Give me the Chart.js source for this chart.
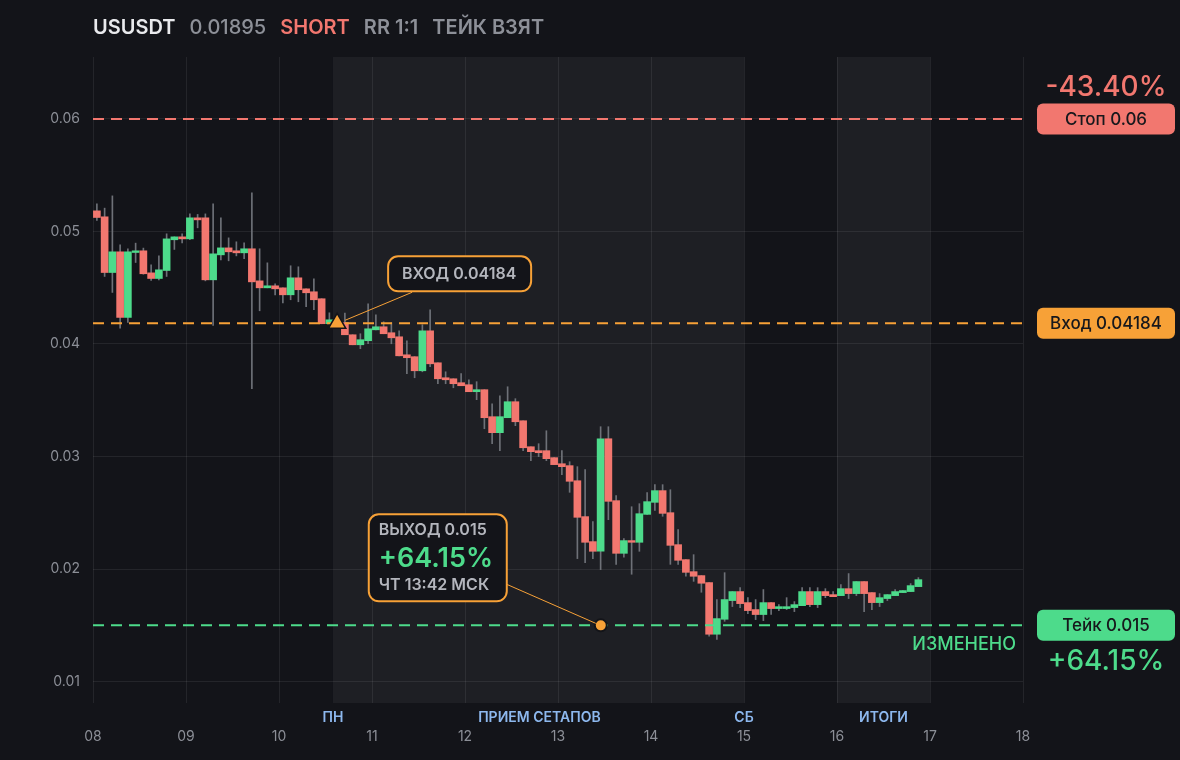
<!DOCTYPE html>
<html>
<head>
<meta charset="utf-8">
<script src="https://cdn.jsdelivr.net/npm/chart.js@4.4.1/dist/chart.umd.min.js"></script>
<style>
  html, body { margin: 0; padding: 0; background: #131419; }
  #wrap { position: relative; width: 1180px; height: 760px; }
  #head { position: absolute; left: 93px; top: 15px; font: 600 20px Inter, sans-serif; color: #8d9098; white-space: nowrap; }
  #head span { margin-right: 9px; }
</style>
</head>
<body>
<div id="wrap">
  <canvas id="myChart" width="1180" height="760"></canvas>
  <div id="head">
    <span style="color:#e9eaed">USUSDT</span>
    <span style="font-weight:500">0.01895</span>
    <span style="color:#f2776f">SHORT</span>
    <span>RR 1:1</span>
    <span>ТЕЙК ВЗЯТ</span>
  </div>
</div>
<script>
// свечи по 2 часа, начиная с 08 числа
const startDay = 8;
const candleHours = 2;

const opens = [
  0.05183, 0.05130, 0.04635, 0.04819, 0.04236, 0.04813, 0.04828, 0.04632, 0.04582, 0.04653,
  0.04926, 0.04952, 0.04934, 0.05121, 0.05121, 0.04570, 0.04792, 0.04854, 0.04828, 0.04810,
  0.04846, 0.04561, 0.04499, 0.04517, 0.04499, 0.04437, 0.04588, 0.04490, 0.04464, 0.04402,
  0.04180, 0.04215, 0.04190, 0.04082, 0.03993, 0.04029, 0.04126, 0.04153, 0.04100, 0.04064,
  0.03904, 0.03887, 0.03762, 0.04117, 0.03833, 0.03700, 0.03691, 0.03656, 0.03638, 0.03576,
  0.03594, 0.03354, 0.03212, 0.03345, 0.03487, 0.03318, 0.03087, 0.03052, 0.03052, 0.02990,
  0.02936, 0.02919, 0.02785, 0.02466, 0.02244, 0.02158, 0.03158, 0.02608, 0.02140, 0.02253,
  0.02238, 0.02486, 0.02593, 0.02697, 0.02501, 0.02217, 0.02084, 0.01977, 0.01942, 0.01880,
  0.01421, 0.01554, 0.01720, 0.01800, 0.01702, 0.01640, 0.01596, 0.01702, 0.01649, 0.01649,
  0.01658, 0.01675, 0.01800, 0.01684, 0.01800, 0.01773, 0.01764, 0.01826, 0.01782, 0.01889,
  0.01791, 0.01702, 0.01738, 0.01764, 0.01791, 0.01800, 0.01844
];
const highs = [
  0.05245, 0.05207, 0.05316, 0.04881, 0.04846, 0.04896, 0.04852, 0.04703, 0.04783, 0.04979,
  0.04952, 0.04979, 0.05156, 0.05151, 0.05156, 0.05245, 0.05121, 0.04943, 0.04908, 0.04899,
  0.05343, 0.04846, 0.04721, 0.04535, 0.04499, 0.04695, 0.04686, 0.04490, 0.04579, 0.04402,
  0.04277, 0.04240, 0.04274, 0.04082, 0.04091, 0.04357, 0.04260, 0.04197, 0.04189, 0.04117,
  0.04029, 0.03887, 0.04171, 0.04304, 0.03833, 0.03753, 0.03691, 0.03736, 0.03682, 0.03665,
  0.03594, 0.03469, 0.03540, 0.03620, 0.03514, 0.03318, 0.03087, 0.03114, 0.03229, 0.02990,
  0.03052, 0.02954, 0.02910, 0.02883, 0.02421, 0.03265, 0.03265, 0.02652, 0.02270, 0.02554,
  0.02581, 0.02679, 0.02750, 0.02750, 0.02705, 0.02350, 0.02084, 0.02128, 0.01942, 0.01880,
  0.01729, 0.01968, 0.01800, 0.01835, 0.01746, 0.01729, 0.01818, 0.01702, 0.01684, 0.01746,
  0.01711, 0.01835, 0.01835, 0.01835, 0.01826, 0.01800, 0.01862, 0.01960, 0.01889, 0.01889,
  0.01791, 0.01782, 0.01773, 0.01818, 0.01809, 0.01871, 0.01924
];
const lows = [
  0.05097, 0.04600, 0.04458, 0.04141, 0.04192, 0.04724, 0.04620, 0.04564, 0.04570, 0.04600,
  0.04840, 0.04899, 0.04926, 0.05032, 0.04561, 0.04165, 0.04748, 0.04739, 0.04783, 0.04757,
  0.03602, 0.04295, 0.04499, 0.04437, 0.04366, 0.04393, 0.04375, 0.04331, 0.04304, 0.04180,
  0.04180, 0.04170, 0.04082, 0.03993, 0.03958, 0.04002, 0.04126, 0.04091, 0.04002, 0.03895,
  0.03736, 0.03700, 0.03753, 0.03798, 0.03647, 0.03647, 0.03611, 0.03629, 0.03576, 0.03505,
  0.03247, 0.03114, 0.03052, 0.03345, 0.03274, 0.03052, 0.02963, 0.02999, 0.02963, 0.02928,
  0.02839, 0.02682, 0.02093, 0.02057, 0.02093, 0.01995, 0.02439, 0.02042, 0.02105, 0.01954,
  0.02158, 0.02486, 0.02522, 0.02469, 0.02042, 0.02042, 0.01936, 0.01891, 0.01794, 0.01403,
  0.01376, 0.01536, 0.01667, 0.01658, 0.01604, 0.01551, 0.01542, 0.01596, 0.01631, 0.01640,
  0.01622, 0.01675, 0.01667, 0.01658, 0.01746, 0.01755, 0.01764, 0.01738, 0.01764, 0.01622,
  0.01640, 0.01667, 0.01720, 0.01764, 0.01791, 0.01800, 0.01844
];
const closes = [
  0.05124, 0.04635, 0.04819, 0.04236, 0.04819, 0.04828, 0.04624, 0.04582, 0.04659, 0.04934,
  0.04952, 0.04934, 0.05121, 0.05103, 0.04570, 0.04801, 0.04854, 0.04819, 0.04810, 0.04846,
  0.04552, 0.04499, 0.04517, 0.04490, 0.04437, 0.04588, 0.04482, 0.04455, 0.04393, 0.04180,
  0.04215, 0.04195, 0.04082, 0.03993, 0.04038, 0.04135, 0.04153, 0.04091, 0.04055, 0.03895,
  0.03878, 0.03762, 0.04117, 0.03824, 0.03691, 0.03682, 0.03647, 0.03629, 0.03576, 0.03594,
  0.03345, 0.03212, 0.03354, 0.03487, 0.03309, 0.03078, 0.03043, 0.03034, 0.02981, 0.02928,
  0.02910, 0.02780, 0.02460, 0.02238, 0.02158, 0.03158, 0.02602, 0.02140, 0.02253, 0.02238,
  0.02492, 0.02599, 0.02697, 0.02495, 0.02211, 0.02078, 0.01971, 0.01936, 0.01874, 0.01421,
  0.01560, 0.01729, 0.01800, 0.01693, 0.01631, 0.01596, 0.01702, 0.01649, 0.01666, 0.01666,
  0.01684, 0.01800, 0.01684, 0.01800, 0.01764, 0.01755, 0.01826, 0.01782, 0.01889, 0.01782,
  0.01702, 0.01746, 0.01773, 0.01800, 0.01809, 0.01853, 0.01906
];

// уровни сделки
const stopPrice = 0.06;
const entryPrice = 0.04184;
const takePrice = 0.015;
const entryDay = 10.625;
const exitDay = 13.46;

// оси
const xTickValues = [8, 9, 10, 11, 12, 13, 14, 15, 16, 17, 18];
const xTickLabels = ['08', '09', '10', '11', '12', '13', '14', '15', '16', '17', '18'];
const yTickValues = [0.01, 0.02, 0.03, 0.04, 0.05, 0.06];
const yTickLabels = ['0.01', '0.02', '0.03', '0.04', '0.05', '0.06'];

// сессии
const bandFrom = [10.58, 16];
const bandTo = [15, 17];
const sessionLabels = ['ПН', 'ПРИЕМ СЕТАПОВ', 'СБ', 'ИТОГИ'];
const sessionDays = [10.58, 12.8, 15, 16.5];

const GREEN = '#4ddb8b';
const RED = '#f2776f';
const ORANGE = '#f7a137';
const BG = '#131419';
const TXT = '#b4b6bd';

const times = opens.map((o, i) => startDay + (i + 0.5) * candleHours / 24);

const bandsPlugin = {
  id: 'bands',
  beforeDraw(chart) {
    const { ctx, chartArea: a, scales: { x } } = chart;
    ctx.save();
    ctx.fillStyle = '#1e1f24';
    bandFrom.forEach((f, i) => {
      const x0 = x.getPixelForValue(f), x1 = x.getPixelForValue(bandTo[i]);
      ctx.fillRect(x0, a.top, x1 - x0, a.bottom - a.top);
    });
    ctx.restore();
  }
};

function pill(ctx, text, color, cx, cy) {
  ctx.fillStyle = color;
  ctx.beginPath();
  ctx.roundRect(cx - 69, cy - 15.5, 138, 31, 6);
  ctx.fill();
  ctx.fillStyle = '#17181c';
  ctx.font = '500 17px Inter';
  ctx.textAlign = 'center';
  ctx.textBaseline = 'middle';
  ctx.fillText(text, cx, cy + 1);
}

const labelsPlugin = {
  id: 'labels',
  afterDraw(chart) {
    const { ctx, chartArea: a, scales: { x, y } } = chart;
    ctx.save();

    // подписи сессий
    ctx.font = '600 14px Inter';
    ctx.fillStyle = '#8db8ee';
    ctx.textAlign = 'center';
    ctx.textBaseline = 'middle';
    sessionLabels.forEach((t, i) => ctx.fillText(t, x.getPixelForValue(sessionDays[i]), a.bottom + 15));

    // ценники справа
    const px = a.right + 83;
    const ys = y.getPixelForValue(stopPrice), ye = y.getPixelForValue(entryPrice), yt = y.getPixelForValue(takePrice);
    pill(ctx, 'Стоп 0.06', RED, px, ys);
    pill(ctx, 'Вход 0.04184', ORANGE, px, ye);
    pill(ctx, 'Тейк 0.015', GREEN, px, yt);
    ctx.font = '500 28px Inter';
    ctx.fillStyle = RED;
    ctx.fillText('-43.40%', px, ys - 31);
    ctx.fillStyle = GREEN;
    ctx.fillText('+64.15%', px, yt + 36);
    ctx.font = '500 18px Inter';
    ctx.textAlign = 'right';
    ctx.fillText('ИЗМЕНЕНО', a.right - 7, yt + 19);

    // вход
    const ex = x.getPixelForValue(entryDay), ey = ye;
    ctx.strokeStyle = ORANGE;
    ctx.lineWidth = 1;
    ctx.beginPath();
    ctx.moveTo(ex + 75, ey - 31);
    ctx.lineTo(ex + 8, ey - 3);
    ctx.stroke();
    ctx.lineWidth = 2;
    ctx.fillStyle = BG;
    ctx.beginPath();
    ctx.roundRect(ex + 51, ey - 67, 143, 35, 10);
    ctx.fill();
    ctx.stroke();
    ctx.fillStyle = TXT;
    ctx.font = '600 16px Inter';
    ctx.textAlign = 'center';
    ctx.fillText('ВХОД 0.04184', ex + 122, ey - 49);

    // выход
    const ox = x.getPixelForValue(exitDay), oy = yt;
    ctx.lineWidth = 1;
    ctx.beginPath();
    ctx.moveTo(ox - 94, oy - 41);
    ctx.lineTo(ox - 5, oy - 2);
    ctx.stroke();
    ctx.lineWidth = 2;
    ctx.fillStyle = BG;
    ctx.beginPath();
    ctx.roundRect(ox - 232, oy - 111, 138, 87, 10);
    ctx.fill();
    ctx.stroke();
    ctx.textAlign = 'left';
    ctx.fillStyle = TXT;
    ctx.font = '600 16px Inter';
    ctx.fillText('ВЫХОД 0.015', ox - 222, oy - 95);
    ctx.fillText('ЧТ 13:42 МСК', ox - 222, oy - 40);
    ctx.fillStyle = GREEN;
    ctx.font = '600 27px Inter';
    ctx.fillText('+64.15%', ox - 222, oy - 66);

    ctx.restore();
  }
};

Chart.defaults.font.family = 'Inter';

const ctx = document.getElementById('myChart').getContext('2d');
const myChart = new Chart(ctx, {
  type: 'bar',
  data: {
    datasets: [
      {
        type: 'line',
        data: [{ x: 8, y: stopPrice }, { x: 18, y: stopPrice }],
        borderColor: RED, borderWidth: 2, borderDash: [11, 7], pointRadius: 0, order: 1
      },
      {
        type: 'line',
        data: [{ x: 8, y: entryPrice }, { x: 18, y: entryPrice }],
        borderColor: ORANGE, borderWidth: 2, borderDash: [11, 7], pointRadius: 0, order: 1
      },
      {
        type: 'line',
        data: [{ x: 8, y: takePrice }, { x: 18, y: takePrice }],
        borderColor: GREEN, borderWidth: 2, borderDash: [11, 7], pointRadius: 0, order: 1
      },
      {
        type: 'line',
        data: [{ x: entryDay, y: entryPrice }],
        showLine: false, pointStyle: 'triangle', pointRadius: 10,
        backgroundColor: ORANGE, borderColor: BG, borderWidth: 1.5, order: 0
      },
      {
        type: 'line',
        data: [{ x: exitDay, y: takePrice }],
        showLine: false, pointStyle: 'circle', pointRadius: 6,
        backgroundColor: ORANGE, borderColor: BG, borderWidth: 2, order: 0
      },
      {
        // тела свечей
        data: closes.map((c, i) => ({ x: times[i], y: [opens[i], c] })),
        backgroundColor: closes.map((c, i) => c >= opens[i] ? GREEN : RED),
        barThickness: 7, minBarLength: 1, grouped: false, order: 2
      },
      {
        // тени
        data: highs.map((h, i) => ({ x: times[i], y: [lows[i], h] })),
        backgroundColor: '#6e7178',
        barThickness: 1, grouped: false, order: 3
      }
    ]
  },
  options: {
    responsive: false,
    animation: false,
    devicePixelRatio: 1,
    layout: { padding: { top: 57, right: 157, left: 0, bottom: 0 } },
    plugins: { legend: { display: false }, tooltip: { enabled: false } },
    scales: {
      x: {
        type: 'linear',
        min: 8, max: 18,
        offset: false,
        grid: { color: 'rgba(255,255,255,0.075)', offset: false, drawTicks: false },
        border: { display: false },
        afterBuildTicks: s => { s.ticks = xTickValues.map(v => ({ value: v })); },
        afterFit: s => { s.height = 57; },
        ticks: {
          color: '#8c8f97', font: { size: 14 }, padding: 25,
          callback: (v) => xTickLabels[xTickValues.indexOf(v)]
        }
      },
      y: {
        min: 0.0081, max: 0.0655,
        beginAtZero: false,
        grid: { color: 'rgba(255,255,255,0.075)', drawTicks: false },
        border: { display: false },
        afterBuildTicks: s => { s.ticks = yTickValues.map(v => ({ value: v })); },
        afterFit: s => { s.width = 93; },
        ticks: {
          color: '#8c8f97', font: { size: 14 }, padding: 13,
          callback: (v) => yTickLabels[yTickValues.indexOf(v)]
        }
      }
    }
  },
  plugins: [bandsPlugin, labelsPlugin]
});
</script>
</body>
</html>
